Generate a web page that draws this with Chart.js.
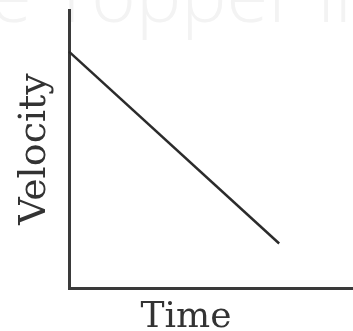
<!DOCTYPE html>
<html lang="en">
<head>
  <meta charset="UTF-8" />
  <title>Velocity vs Time</title>
  <script src="https://cdn.jsdelivr.net/npm/chart.js"></script>
  <style>
    html, body { margin: 0; padding: 0; background: #fff; }
    #wrap { width: 353px; height: 331px; }
  </style>
</head>
<body>
  <div id="wrap"><canvas id="vtChart"></canvas></div>

  <script>
    // values (arbitrary units, axes have no ticks)
    const time = [0, 7.4];
    const velocity = [8.5, 1.6];
    const xTitle = 'Time';
    const yTitle = 'Velocity';
    const watermark = 'e Topper in';

    const inkColor = '#2b2b2b';
    const axisColor = '#3a3a3a';
    const serif = "'DejaVu Serif', 'Liberation Serif', serif";

    // faint watermark behind the chart + x axis title offset like the original
    const extras = {
      id: 'extras',
      beforeDraw(chart) {
        const ctx = chart.ctx;
        ctx.save();
        ctx.fillStyle = '#f3f3f3';
        ctx.font = "300 76px 'Open Sans', sans-serif";
        ctx.textBaseline = 'alphabetic';
        ctx.fillText(watermark, -10, 22);
        ctx.restore();
      },
      afterDraw(chart) {
        const ctx = chart.ctx;
        const area = chart.chartArea;
        ctx.save();
        ctx.fillStyle = '#333';
        ctx.font = '36px ' + serif;
        ctx.textAlign = 'center';
        ctx.textBaseline = 'alphabetic';
        ctx.fillText(xTitle, area.left + 117, area.bottom + 39);
        ctx.restore();
      }
    };

    new Chart(document.getElementById('vtChart'), {
      type: 'line',
      data: {
        datasets: [{
          data: time.map((t, i) => ({ x: t, y: velocity[i] })),
          borderColor: inkColor,
          borderWidth: 2.5,
          pointRadius: 0,
          tension: 0,
          clip: false
        }]
      },
      options: {
        responsive: true,
        maintainAspectRatio: false,
        animation: false,
        layout: { padding: { top: 10, right: 0, bottom: 43, left: 0 } },
        plugins: {
          legend: { display: false },
          tooltip: { enabled: false }
        },
        scales: {
          x: {
            type: 'linear',
            min: 0,
            max: 10,
            grid: { display: false, drawTicks: false },
            ticks: { display: false },
            border: { display: true, color: axisColor, width: 3 }
          },
          y: {
            min: 0,
            max: 10,
            grid: { display: false, drawTicks: false },
            ticks: { display: false },
            border: { display: true, color: axisColor, width: 3 },
            title: {
              display: true,
              text: yTitle,
              color: '#333',
              font: { family: serif, size: 38, lineHeight: 1 },
              padding: { top: 16, bottom: 15 }
            }
          }
        }
      },
      plugins: [extras]
    });
  </script>
</body>
</html>
